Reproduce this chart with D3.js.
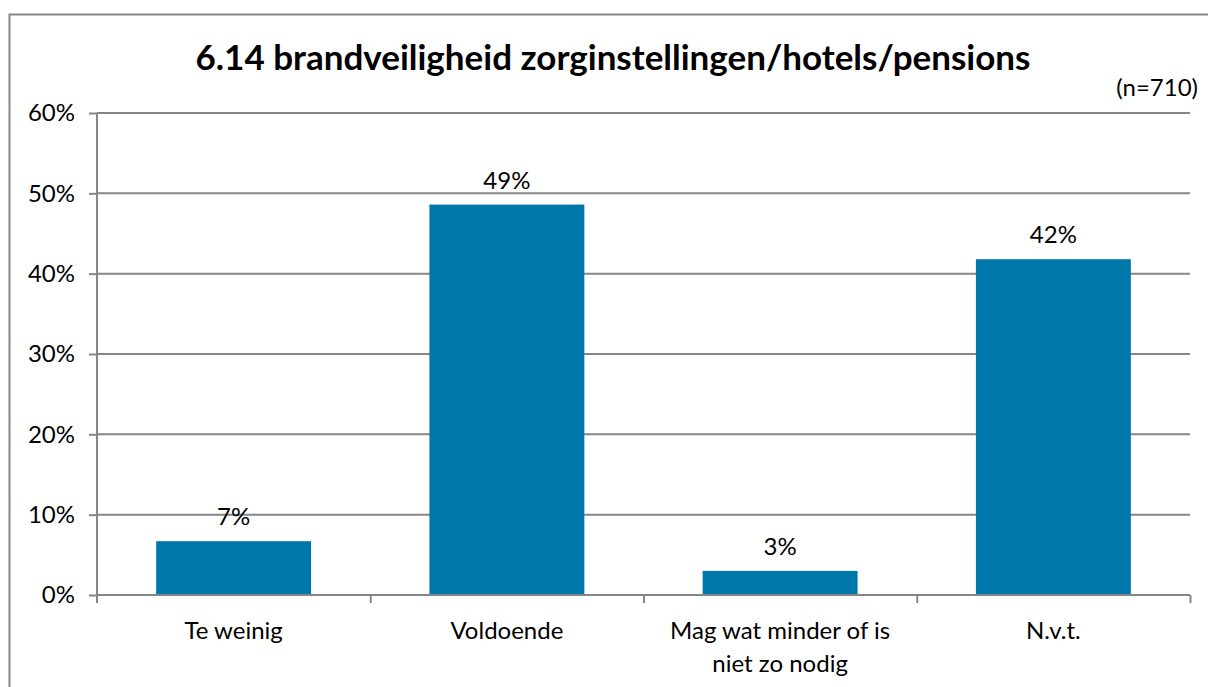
<!DOCTYPE html>
<html>
<head>
<meta charset="utf-8">
<script src="https://cdn.jsdelivr.net/npm/d3@7"></script>
<style>
  body { margin: 0; background: #fff; }
  svg { display: block; font-family: Lato, "Open Sans", sans-serif; }
  .axis { font-family: Lato, "Open Sans", sans-serif; }
  .axis text { font-size: 24px; fill: #000; }
  .axis path, .axis line { stroke: #868686; stroke-width: 2; }
</style>
</head>
<body>
<div class="chart"></div>
<script>
var categories = [["Te weinig"], ["Voldoende"], ["Mag wat minder of is", "niet zo nodig"], ["N.v.t."]];
var values = [6.7, 48.6, 3.0, 41.8];
var valueLabels = ["7%", "49%", "3%", "42%"];
var yTicks = [0, 10, 20, 30, 40, 50, 60];

var totalWidth = 1208, totalHeight = 687;
var margin = {top: 113, right: 18, bottom: 92, left: 97};
var width = totalWidth - margin.left - margin.right;
var height = totalHeight - margin.top - margin.bottom;

var svg = d3.select(".chart")
  .append("svg")
  .attr("width", totalWidth)
  .attr("height", totalHeight);

// outer frame (only top and left visible)
svg.append("path")
  .attr("d", "M9.5,687V14.5H1208")
  .attr("fill", "none")
  .attr("stroke", "#868686")
  .attr("stroke-width", 2);

var chart = svg.append("g")
  .attr("transform", "translate(" + margin.left + "," + margin.top + ")");

var x = d3.scaleBand()
  .domain(d3.range(categories.length))
  .range([0, width])
  .paddingInner(0.433)
  .paddingOuter(0.2165);

var xb = d3.scaleLinear().domain([0, categories.length]).range([0, width]);

var y = d3.scaleLinear()
  .domain([0, 60])
  .range([height, 0]);

// gridlines
chart.selectAll(".grid")
  .data(yTicks.slice(1))
  .enter()
  .append("line")
  .attr("x1", 0)
  .attr("x2", width)
  .attr("y1", function(d) { return y(d); })
  .attr("y2", function(d) { return y(d); })
  .attr("stroke", "#868686")
  .attr("stroke-width", 2);

// bars
chart.selectAll(".bar")
  .data(values)
  .enter()
  .append("rect")
  .attr("x", function(d, i) { return x(i); })
  .attr("y", function(d) { return y(d); })
  .attr("width", x.bandwidth())
  .attr("height", function(d) { return height - y(d); })
  .attr("fill", "#0077ab");

// value labels
chart.selectAll(".val")
  .data(values)
  .enter()
  .append("text")
  .attr("x", function(d, i) { return x(i) + x.bandwidth() / 2; })
  .attr("y", function(d) { return y(d) - 16; })
  .attr("text-anchor", "middle")
  .style("font-size", "24px")
  .text(function(d, i) { return valueLabels[i]; });

// y axis
chart.append("g")
  .attr("class", "axis")
  .call(d3.axisLeft(y)
    .tickValues(yTicks)
    .tickSize(8)
    .tickPadding(14)
    .tickFormat(function(d) { return d + "%"; }))
  .call(function(g) { g.select(".domain").attr("d", "M0,0V" + (height + 8)); });

// x axis with boundary ticks
var xAxis = chart.append("g")
  .attr("class", "axis")
  .attr("transform", "translate(0," + height + ")")
  .call(d3.axisBottom(xb).tickValues(d3.range(1, categories.length + 1)).tickSize(8).tickFormat(""));
xAxis.select(".domain").attr("d", "M0,0H" + width);

chart.selectAll(".xlabel")
  .data(categories)
  .enter()
  .append("text")
  .attr("transform", function(d, i) {
    return "translate(" + (x(i) + x.bandwidth() / 2) + "," + (height + 44) + ")";
  })
  .attr("text-anchor", "middle")
  .style("font-size", "24px")
  .each(function(d) {
    var t = d3.select(this);
    d.forEach(function(line, j) {
      t.append("tspan").attr("x", 0).attr("dy", j === 0 ? 0 : 33).text(line);
    });
  });

// title
svg.append("text")
  .attr("x", 613)
  .attr("y", 70)
  .attr("text-anchor", "middle")
  .style("font-size", "35px")
  .style("font-weight", "bold")
  .text("6.14 brandveiligheid zorginstellingen/hotels/pensions");

svg.append("text")
  .attr("x", 1198)
  .attr("y", 96)
  .attr("text-anchor", "end")
  .style("font-size", "24px")
  .text("(n=710)");
</script>
</body>
</html>
